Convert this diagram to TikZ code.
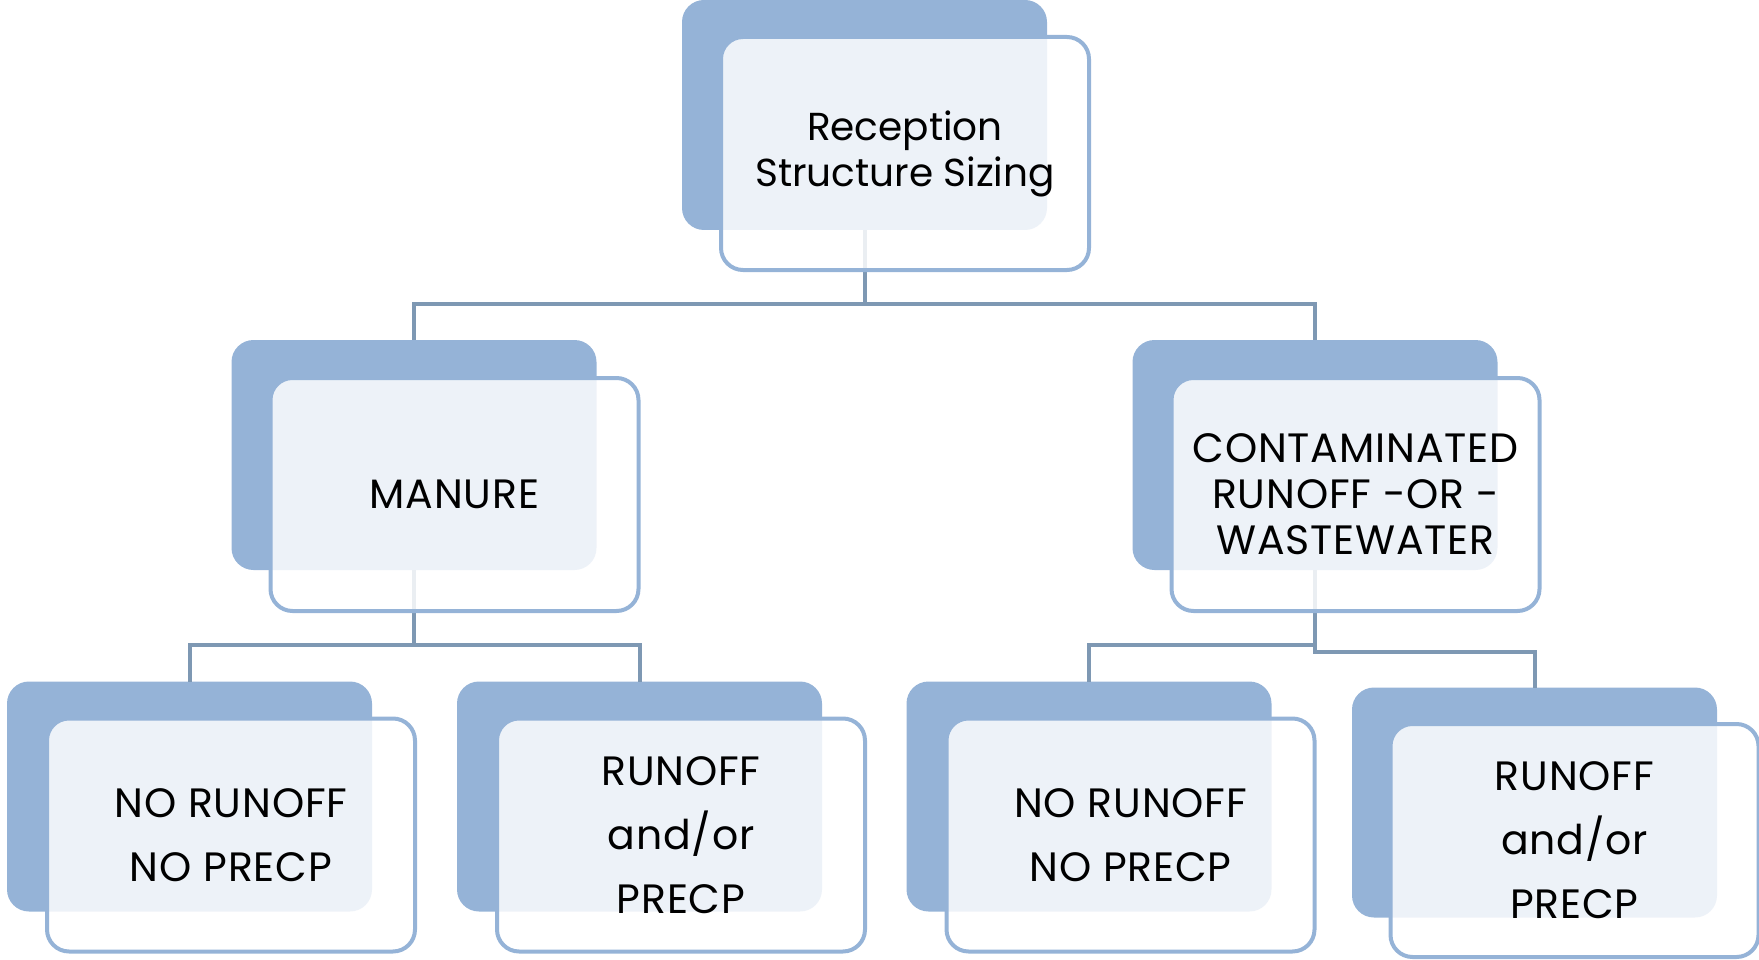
\documentclass[tikz,border=0pt]{standalone}
\usepackage{fontspec}
\setmainfont[LetterSpace=2]{Poppins}
\newfontfamily\plainpop{Poppins}
\definecolor{backblue}{HTML}{95B3D7}
\definecolor{edgeblue}{HTML}{95B3D7}
\definecolor{linkblue}{HTML}{7E98B3}
\begin{document}
\begin{tikzpicture}[x=1pt,y=-1pt,
  backbox/.style={rectangle, rounded corners=22pt, fill=backblue, draw=none,
    minimum width=365pt, minimum height=230pt, inner sep=0pt, outer sep=0pt},
  frontbox/.style={rectangle, rounded corners=22pt, draw=edgeblue, line width=4pt,
    fill=white, fill opacity=0.84, text opacity=1, text=black,
    minimum width=368pt, minimum height=233pt, inner sep=0pt, outer sep=0pt,
    align=center},
  headfont/.style={font=\plainpop\fontsize{39}{46}\selectfont},
  tight/.style={font=\fontsize{41}{46}\selectfont},
  loose/.style={font=\fontsize{41}{64}\selectfont},
  link/.style={draw=linkblue, line width=4pt}]
\useasboundingbox (0,0) rectangle (1759,960);

% back plates
\node[backbox] (topB) at (864.5,115) {};
\node[backbox] (manB) at (414,455) {};
\node[backbox] (conB) at (1315,455) {};
\node[backbox] (b1B) at (189.5,796.5) {};
\node[backbox] (b2B) at (639.5,796.5) {};
\node[backbox] (b3B) at (1089,796.5) {};
\node[backbox] (b4B) at (1534.5,802.5) {};

% connectors
\draw[link] (topB.south) -- ++(0,74) coordinate (topJ);
\draw[link] (manB.north) |- (topJ) -| (conB.north);
\draw[link] (manB.south) -- ++(0,75) coordinate (manJ);
\draw[link] (b1B.north) |- (manJ) -| (b2B.north);
\draw[link] (conB.south) -- ++(0,75) coordinate (conJ);
\draw[link] (conJ) -| (b3B.north);
\draw[link] (conJ) -- ++(0,7) -| (b4B.north);

% front panels
\node[frontbox, headfont] (top) at (905,153.5) {Reception\\Structure Sizing};
\node[frontbox, tight] (manure) at (454.5,494.5) {MANURE};
\node[frontbox, tight] (cont) at (1355.5,494.5) {CONTAMINATED\\RUNOFF -OR -\\WASTEWATER};
\node[frontbox, loose] (b1) at (231,835) {NO RUNOFF\\NO PRECP};
\node[frontbox, loose] (b2) at (681,835) {RUNOFF\\and/or\\PRECP};
\node[frontbox, loose] (b3) at (1130.5,835) {NO RUNOFF\\NO PRECP};
\node[frontbox, loose] (b4) at (1574.5,840.5) {RUNOFF\\and/or\\PRECP};
\end{tikzpicture}
\end{document}
